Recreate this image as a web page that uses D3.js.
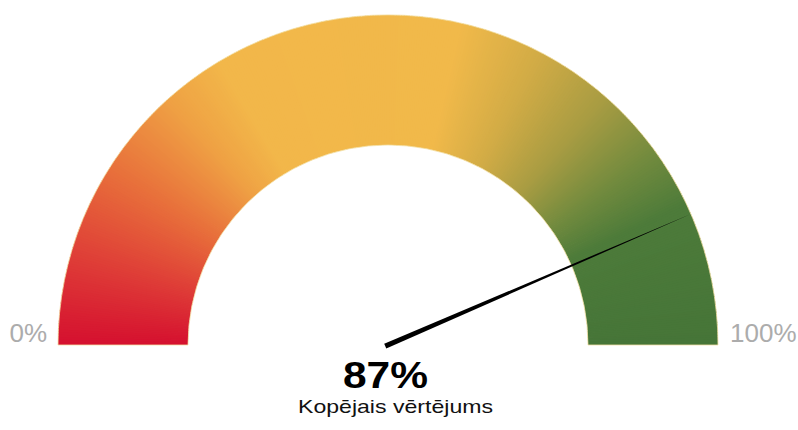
<!DOCTYPE html>
<html>
<head>
<meta charset="utf-8">
<script src="https://cdn.jsdelivr.net/npm/d3@7"></script>
<style>
	body { margin: 0; background: #fff; }
	svg { display: block; }
</style>
</head>
<body>
<div id="chart"></div>
<script>

// DATA

const range = [0, 100],
			value = [87],
			endLabels = ['0%', '100%'],
			title = ['Kopējais vērtējums'];

// colour of the band along the scale (0 = left end, 100 = right end)
const stopValues = [0, 8, 18, 27, 33, 57, 65, 73, 80, 86, 100],
			stopColors = ['#d5102f', '#de3a37', '#e8703b', '#efa244', '#f2b74a', '#f1b94a', '#d3ac46', '#a89c42', '#738b3e', '#4d7b3a', '#467538'];

// GAUGE

const width = 798,
			height = 430,
			cx = 388,
			cy = 345,
			outer = 330,
			inner = 200,
			steps = 400;

const angle = d3.scaleLinear()
	.domain(range)
	.range([-Math.PI / 2, Math.PI / 2]);

const colour = d3.scaleLinear()
	.domain(stopValues)
	.range(stopColors)
	.interpolate(d3.interpolateRgb);

const svg = d3.select('#chart')
	.append('svg')
	.attr('width', width)
	.attr('height', height);

const g = svg.append('g')
	.attr('transform', `translate(${cx},${cy})`);

const band = d3.arc()
	.innerRadius(inner)
	.outerRadius(outer);

// the band is cut into thin slices so the colour can follow the angle
const slices = d3.range(steps).map(i => {
	const step = (range[1] - range[0]) / steps;
	return { from: range[0] + i * step, to: range[0] + (i + 1) * step };
});

g.selectAll('.slice')
	.data(slices)
	.join('path')
	.classed('slice', true)
	.attr('d', d => band({
		startAngle: angle(d.from),
		endAngle: Math.min(angle(d.to) + 0.004, angle(range[1]))
	}))
	.attr('fill', d => colour((d.from + d.to) / 2));

g.append('path')
	.attr('d', band({ startAngle: angle(range[0]), endAngle: angle(range[1]) }))
	.attr('fill', 'none')
	.attr('stroke', '#f3dfa6')
	.attr('stroke-width', 0.8);

// needle
const a = angle(value[0]),
			ux = Math.sin(a),
			uy = -Math.cos(a),
			px = -uy,
			py = ux;

const needle = [
	[-ux * 3 + px * 2.6, -uy * 3 + py * 2.6],
	[ux * outer, uy * outer],
	[-ux * 3 - px * 2.6, -uy * 3 - py * 2.6]
];

g.append('path')
	.attr('d', d3.line()(needle) + 'Z')
	.attr('fill', '#000');

// end labels
svg.selectAll('.end')
	.data(endLabels)
	.join('text')
	.classed('end', true)
	.attr('x', (d, i) => i === 0 ? cx - outer - 11 : cx + outer + 12)
	.attr('y', cy - 3)
	.attr('text-anchor', (d, i) => i === 0 ? 'end' : 'start')
	.attr('font-family', 'Liberation Sans, Arial, sans-serif')
	.attr('font-size', 26)
	.attr('fill', '#acacac')
	.text(d => d);

// value
svg.append('text')
	.attr('x', 343)
	.attr('y', 388)
	.attr('font-family', 'Liberation Sans, Arial, sans-serif')
	.attr('font-weight', 'bold')
	.attr('font-size', 36)
	.attr('textLength', 85)
	.attr('lengthAdjust', 'spacingAndGlyphs')
	.attr('fill', '#000')
	.text(value[0] + '%');

svg.append('text')
	.attr('x', 298)
	.attr('y', 413)
	.attr('font-family', 'Liberation Sans, Arial, sans-serif')
	.attr('font-size', 19)
	.attr('textLength', 195)
	.attr('lengthAdjust', 'spacingAndGlyphs')
	.attr('fill', '#111')
	.text(title[0]);

</script>
</body>
</html>
